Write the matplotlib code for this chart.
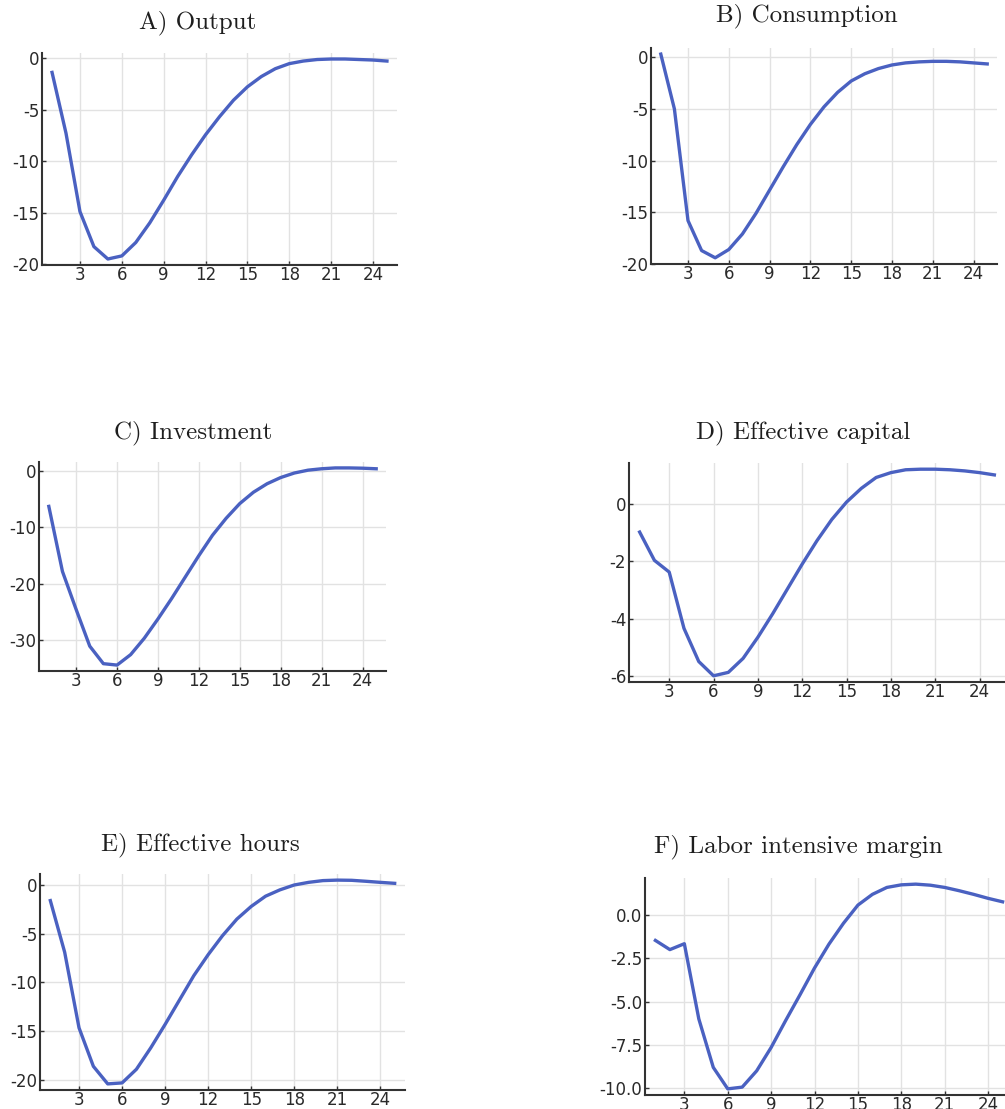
import matplotlib
matplotlib.use("Agg")
import matplotlib.pyplot as plt
import numpy as np

W, H = 1005, 1109

# horizon (quarters)
periods = list(range(1, 26))

output = [-1.4, -7.3, -14.9, -18.3, -19.5, -19.2, -17.9, -16.0, -13.8, -11.5,
          -9.4, -7.45, -5.7, -4.1, -2.8, -1.8, -1.04, -0.55, -0.3, -0.15,
          -0.1, -0.1, -0.15, -0.2, -0.3]
consumption = [0.3, -5.0, -15.8, -18.7, -19.4, -18.6, -17.1, -15.1, -12.85, -10.6,
               -8.45, -6.5, -4.8, -3.4, -2.3, -1.6, -1.1, -0.75, -0.55, -0.45,
               -0.4, -0.4, -0.45, -0.55, -0.65]
investment = [-6.3, -17.8, -24.5, -31.0, -34.1, -34.35, -32.5, -29.6, -26.2, -22.6,
              -18.8, -15.0, -11.4, -8.4, -5.8, -3.8, -2.3, -1.2, -0.4, 0.1,
              0.35, 0.5, 0.5, 0.45, 0.35]
eff_capital = [-0.97, -1.96, -2.37, -4.34, -5.5, -6.0, -5.88, -5.39, -4.65, -3.83,
               -2.96, -2.09, -1.27, -0.53, 0.08, 0.56, 0.94, 1.11, 1.21, 1.23,
               1.23, 1.21, 1.17, 1.11, 1.03]
eff_hours = [-1.6, -6.9, -14.65, -18.6, -20.4, -20.3, -18.9, -16.7, -14.3, -11.8,
             -9.3, -7.15, -5.2, -3.5, -2.2, -1.15, -0.5, 0.0, 0.27, 0.45,
             0.5, 0.48, 0.38, 0.27, 0.17]
intensive = [-1.47, -2.0, -1.66, -6.0, -8.8, -10.04, -9.94, -9.0, -7.65, -6.1,
             -4.6, -3.06, -1.68, -0.48, 0.57, 1.19, 1.59, 1.74, 1.78, 1.72,
             1.59, 1.4, 1.19, 0.96, 0.76]

titles = ["A) Output", "B) Consumption", "C) Investment",
          "D) Effective capital", "E) Effective hours", "F) Labor intensive margin"]
series = [output, consumption, investment, eff_capital, eff_hours, intensive]
xticks = [3, 6, 9, 12, 15, 18, 21, 24]
yticks = [[0, -5, -10, -15, -20], [0, -5, -10, -15, -20], [0, -10, -20, -30],
          [0, -2, -4, -6], [0, -5, -10, -15, -20], [0.0, -2.5, -5.0, -7.5, -10.0]]
ylabels = [["0", "-5", "-10", "-15", "-20"], ["0", "-5", "-10", "-15", "-20"],
           ["0", "-10", "-20", "-30"], ["0", "-2", "-4", "-6"],
           ["0", "-5", "-10", "-15", "-20"], ["0.0", "-2.5", "-5.0", "-7.5", "-10.0"]]

# axes boxes in pixels: left, right, top, bottom
boxes = [(42, 397, 53, 265), (651, 997, 48, 264), (39, 386, 462, 671),
         (629, 1005, 463, 682), (40, 405, 874, 1090), (645, 1013, 878, 1095)]
# title centres in pixels
title_pos = [(198, 23), (807, 16), (193, 433), (803, 433), (200, 845), (798, 847)]

fig = plt.figure(figsize=(W / 100, H / 100), dpi=100)

for i in range(6):
    l, r, t, b = boxes[i]
    ax = fig.add_axes([l / W, 1 - b / H, (r - l) / W, (b - t) / H])
    ax.plot(periods, series[i], color="#4a61c1", linewidth=2.4)
    ax.margins(x=0.03, y=0.03)
    ax.set_xticks(xticks)
    ax.set_yticks(yticks[i])
    ax.set_yticklabels(ylabels[i])
    ax.grid(True, color="#e2e2e2", linewidth=1.0)
    ax.set_axisbelow(True)
    for s in ["top", "right"]:
        ax.spines[s].set_visible(False)
    for s in ["left", "bottom"]:
        ax.spines[s].set_color("#333333")
        ax.spines[s].set_linewidth(1.5)
    ax.tick_params(direction="in", length=3, width=1, color="#333333",
                   labelsize=12, labelcolor="#2a2a2a", pad=2)
    ax.tick_params(axis="x", pad=1)
    tx, ty = title_pos[i]
    fig.text(tx / W, 1 - ty / H, titles[i], ha="center", va="center",
             family="cmr10", fontsize=18, color="#1e1e1e")

fig.savefig("out.png", dpi=100)
